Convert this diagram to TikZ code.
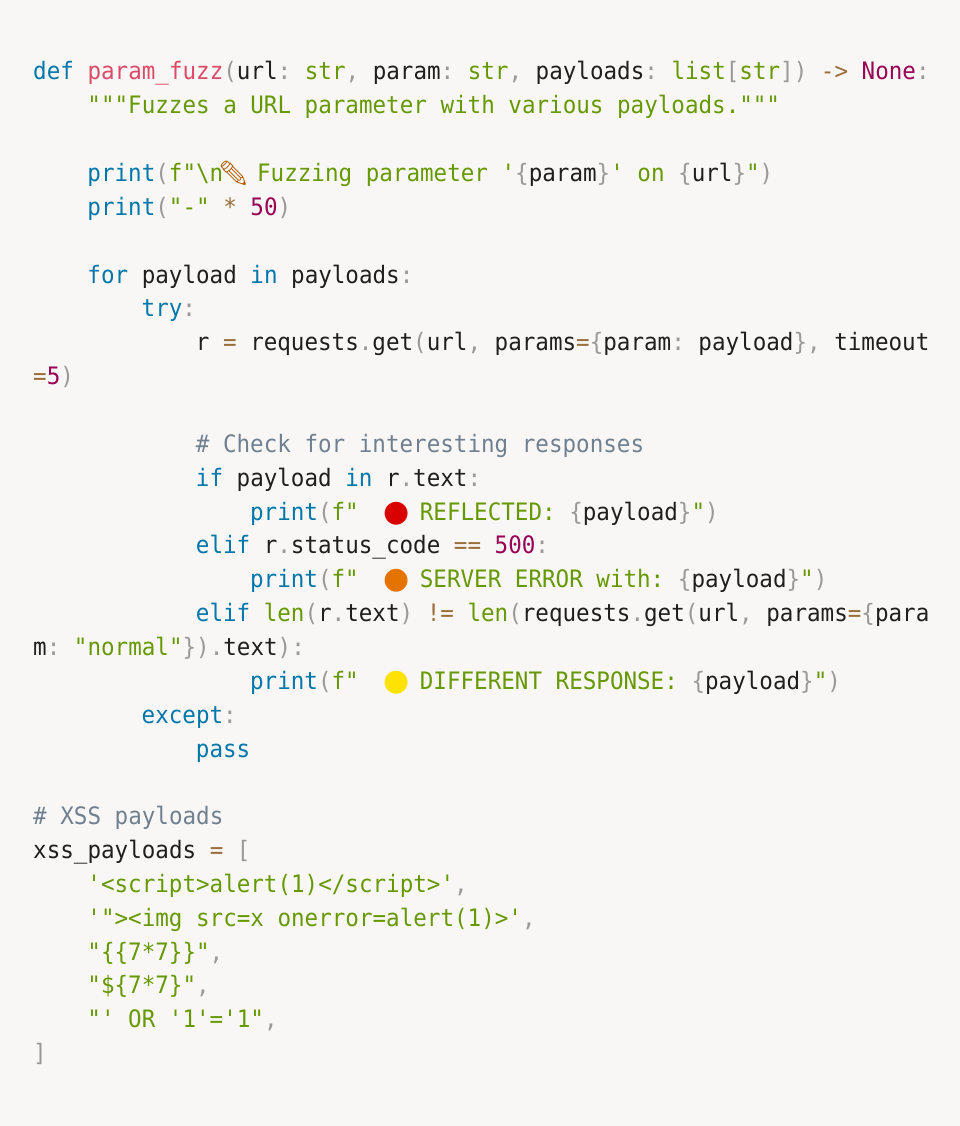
\documentclass[tikz,border=0pt]{standalone}
\usepackage{fontspec}
\setmonofont{DejaVu Sans Mono}[FakeStretch=0.94]
\newfontfamily\emo{Noto Emoji}
\newfontfamily\dejavu{DejaVu Sans}
\definecolor{bg}{HTML}{F8F7F5}
\definecolor{ckw}{HTML}{0077AA}
\definecolor{cfn}{HTML}{DD4A68}
\definecolor{cst}{HTML}{669900}
\definecolor{cnm}{HTML}{990055}
\definecolor{cop}{HTML}{9A6E3A}
\definecolor{cpu}{HTML}{999999}
\definecolor{ccm}{HTML}{708090}
\definecolor{ctx}{HTML}{1F1F1F}
\newcommand\K[1]{\textcolor{ckw}{#1}}
\newcommand\Fn[1]{\textcolor{cfn}{#1}}
\newcommand\St[1]{\textcolor{cst}{#1}}
\newcommand\Nm[1]{\textcolor{cnm}{#1}}
\newcommand\Op[1]{\textcolor{cop}{#1}}
\newcommand\Pu[1]{\textcolor{cpu}{#1}}
\newcommand\Cm[1]{\textcolor{ccm}{#1}}
\newcommand\Em[2]{\makebox[20.3pt][c]{\emo\textcolor{#1}{#2}}}
\newcommand\Dot[1]{\makebox[20.3pt][c]{\dejavu\fontsize{30}{30}\selectfont\raisebox{-1pt}{\textcolor{#1}{●}}}}
\tikzset{ln/.style={anchor=base west,inner sep=0pt,text=ctx,font=\ttfamily\fontsize{24}{30}\selectfont}}
\newcommand\Ln[3]{\node[ln] (l#1) at ({33pt+#2*13.56pt},{-(80pt+#1*33.85pt)}) {#3};}
\begin{document}
\begin{tikzpicture}[x=1pt,y=1pt]
\fill[bg] (0,0) rectangle (960,-1126);
\useasboundingbox (0,0) rectangle (960,-1126);
\Ln{0}{0}{\K{def}~\Fn{param\_fuzz}\Pu{(}url\Pu{:}~\St{str}\Pu{,}~param\Pu{:}~\St{str}\Pu{,}~payloads\Pu{:}~\St{list}\Pu{[}\St{str}\Pu{])}~\Op{->}~\Nm{None}\Pu{:}}
\Ln{1}{4}{\St{"""Fuzzes~a~URL~parameter~with~various~payloads."""}}
\Ln{3}{4}{\K{print}\Pu{(}\St{f"\textbackslash n}\Em{orange!70!black}{✏}\St{~Fuzzing~parameter~'}\Pu{\{}param\Pu{\}}\St{'~on~}\Pu{\{}url\Pu{\}}\St{"}\Pu{)}}
\Ln{4}{4}{\K{print}\Pu{(}\St{"-"}~\Op{*}~\Nm{50}\Pu{)}}
\Ln{6}{4}{\K{for}~payload~\K{in}~payloads\Pu{:}}
\Ln{7}{8}{\K{try}\Pu{:}}
\Ln{8}{12}{r~\Op{=}~requests\Pu{.}get\Pu{(}url\Pu{,}~params\Op{=}\Pu{\{}param\Pu{:}~payload\Pu{\},}~timeout}
\Ln{9}{0}{\Op{=}\Nm{5}\Pu{)}}
\Ln{11}{12}{\Cm{\#~Check~for~interesting~responses}}
\Ln{12}{12}{\K{if}~payload~\K{in}~r\Pu{.}text\Pu{:}}
\Ln{13}{16}{\K{print}\Pu{(}\St{f"~~}\Dot{red!85!black}\St{~REFLECTED:~}\Pu{\{}payload\Pu{\}}\St{"}\Pu{)}}
\Ln{14}{12}{\K{elif}~r\Pu{.}status\_code~\Op{==}~\Nm{500}\Pu{:}}
\Ln{15}{16}{\K{print}\Pu{(}\St{f"~~}\Dot{orange!90!black}\St{~SERVER~ERROR~with:~}\Pu{\{}payload\Pu{\}}\St{"}\Pu{)}}
\Ln{16}{12}{\K{elif}~\St{len}\Pu{(}r\Pu{.}text\Pu{)}~\Op{!=}~\St{len}\Pu{(}requests\Pu{.}get\Pu{(}url\Pu{,}~params\Op{=}\Pu{\{}para}
\Ln{17}{0}{m\Pu{:}~\St{"normal"}\Pu{\}).}text\Pu{):}}
\Ln{18}{16}{\K{print}\Pu{(}\St{f"~~}\Dot{yellow!85!orange}\St{~DIFFERENT~RESPONSE:~}\Pu{\{}payload\Pu{\}}\St{"}\Pu{)}}
\Ln{19}{8}{\K{except}\Pu{:}}
\Ln{20}{12}{\K{pass}}
\Ln{22}{0}{\Cm{\#~XSS~payloads}}
\Ln{23}{0}{xss\_payloads~\Op{=}~\Pu{[}}
\Ln{24}{4}{\St{'<script>alert(1)</script>'}\Pu{,}}
\Ln{25}{4}{\St{'"><img~src=x~onerror=alert(1)>'}\Pu{,}}
\Ln{26}{4}{\St{"\{\{7*7\}\}"}\Pu{,}}
\Ln{27}{4}{\St{"\$\{7*7\}"}\Pu{,}}
\Ln{28}{4}{\St{"'~OR~'1'='1"}\Pu{,}}
\Ln{29}{0}{\Pu{]}}
\end{tikzpicture}
\end{document}
